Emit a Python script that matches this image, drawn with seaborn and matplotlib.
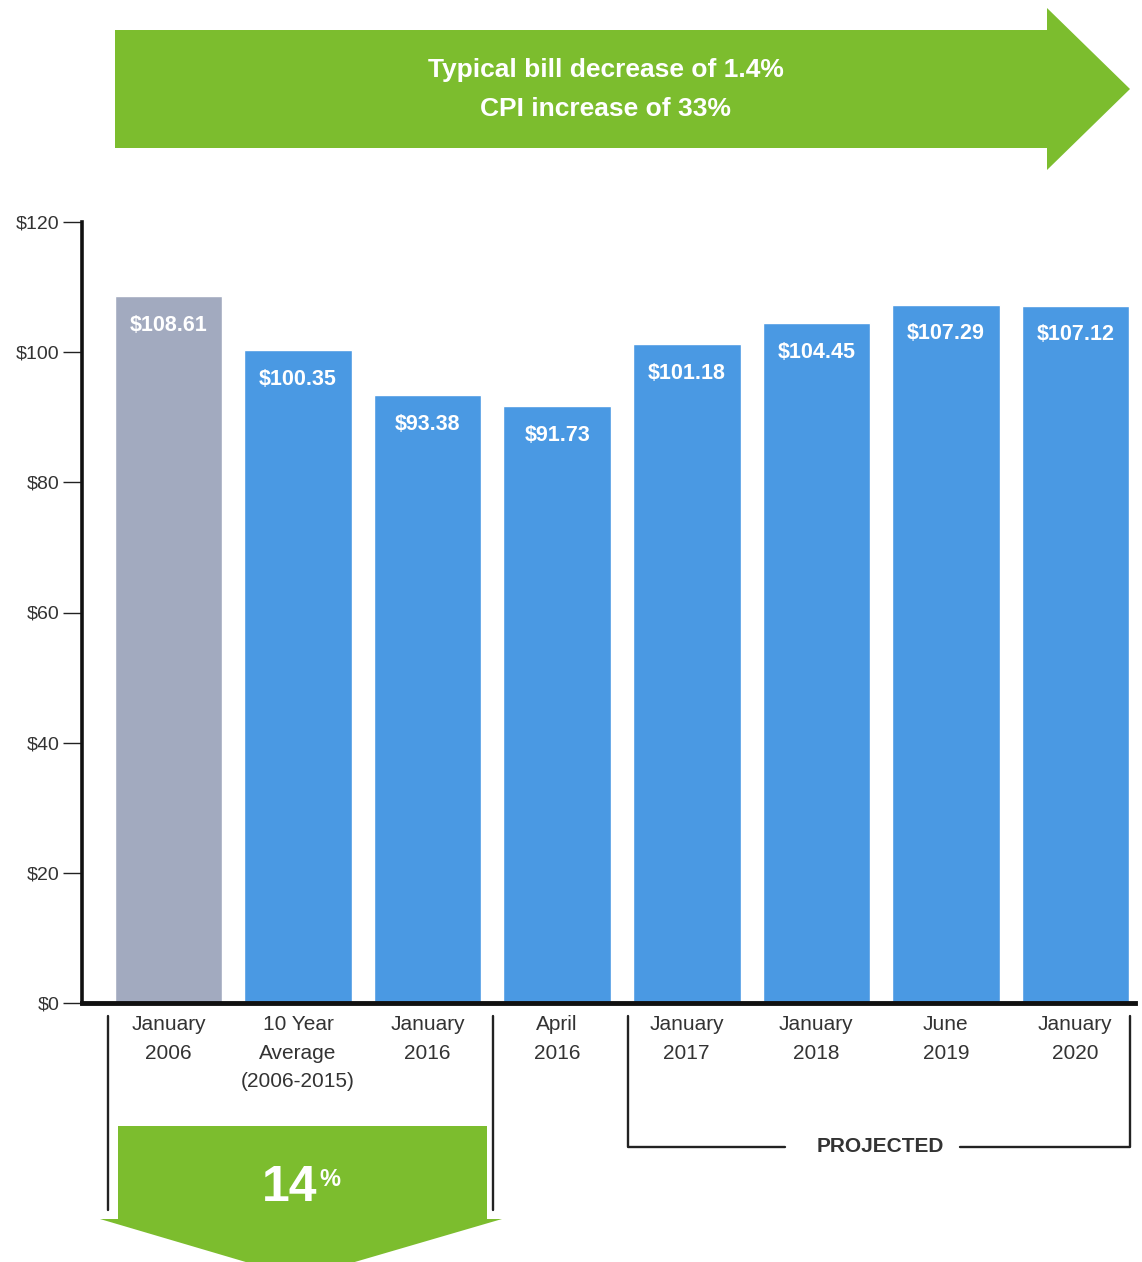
import matplotlib
matplotlib.use("Agg")
import matplotlib.pyplot as plt
from matplotlib.patches import Polygon
from matplotlib.lines import Line2D
import seaborn as sns
import pandas as pd

# Typical monthly bill by period
periods = ["January\n2006", "10 Year\nAverage\n(2006-2015)", "January\n2016", "April\n2016",
           "January\n2017", "January\n2018", "June\n2019", "January\n2020"]
bills = [108.61, 100.35, 93.38, 91.73, 101.18, 104.45, 107.29, 107.12]
groups = ["base", "current", "current", "current", "current", "current", "current", "current"]
value_labels = ["$108.61", "$100.35", "$93.38", "$91.73", "$101.18", "$104.45", "$107.29", "$107.12"]
y_ticks = [0, 20, 40, 60, 80, 100, 120]
y_tick_labels = ["$0", "$20", "$40", "$60", "$80", "$100", "$120"]

BLUE = "#4a99e3"
GRAY = "#a2aabf"
GREEN = "#7cbd2e"
TEXT = "#333333"

sns.set_theme(style="white")
plt.rcParams["font.family"] = ["Liberation Sans Narrow", "Liberation Sans", "DejaVu Sans"]

W, H = 1142, 1262
fig = plt.figure(figsize=(W / 100, H / 100), dpi=100)


def fx(px):
    return px / W


def fy(py):
    return 1 - py / H


ax = fig.add_axes([fx(82), fy(1003), fx(1135) - fx(82), fy(222) - fy(1003)])

df = pd.DataFrame({"period": periods, "bill": bills, "group": groups})
sns.barplot(data=df, x="period", y="bill", hue="group",
            palette={"base": GRAY, "current": BLUE}, dodge=False,
            width=0.83, legend=False, ax=ax, saturation=1)

ax.set_xlim(-0.668, 7.46)
ax.set_ylim(0, 120)
ax.set_xlabel("")
ax.set_ylabel("")

for i, (v, lab) in enumerate(zip(bills, value_labels)):
    ax.annotate(lab, xy=(i, v), xytext=(0, -21), textcoords="offset points",
                ha="center", va="center", color="white", fontsize=15.5,
                fontweight="bold")

ax.set_yticks(y_ticks)
ax.set_yticklabels(y_tick_labels, fontsize=14, color=TEXT)
ax.tick_params(axis="y", length=14, width=1, color="#222222", pad=2, left=True)
ax.set_xticks(range(len(periods)))
ax.set_xticklabels(periods, fontsize=15, color=TEXT, linespacing=1.62)
ax.tick_params(axis="x", length=0, pad=9)

for s in ["top", "right"]:
    ax.spines[s].set_visible(False)
ax.spines["left"].set_linewidth(2.6)
ax.spines["left"].set_color("#111111")
ax.spines["bottom"].set_linewidth(3.5)
ax.spines["bottom"].set_color("#111111")

# Top arrow
top_arrow = [(115, 30), (1047, 30), (1047, 8), (1130, 89), (1047, 170), (1047, 148), (115, 148)]
fig.patches.append(Polygon([(fx(x), fy(y)) for x, y in top_arrow], closed=True,
                           transform=fig.transFigure, facecolor=GREEN, edgecolor="none"))
fig.text(fx(606), fy(70), "Typical bill decrease of 1.4%", ha="center", va="center",
         color="white", fontsize=19, fontweight="bold")
fig.text(fx(606), fy(109), "CPI increase of 33%", ha="center", va="center",
         color="white", fontsize=19, fontweight="bold")

line_kw = dict(transform=fig.transFigure, color="#222222", lw=1.7)

# Bracket around the first three periods
for x in (108, 493):
    fig.add_artist(Line2D([fx(x), fx(x)], [fy(1016), fy(1210)], **line_kw))

# Bottom arrow
bot_arrow = [(118, 1126), (487, 1126), (487, 1219), (502, 1219), (300, 1278),
             (100, 1219), (118, 1219)]
fig.patches.append(Polygon([(fx(x), fy(y)) for x, y in bot_arrow], closed=True,
                           transform=fig.transFigure, facecolor=GREEN, edgecolor="none"))
fig.text(fx(317), fy(1188), "14", ha="right", va="center", color="white",
         fontsize=36, fontweight="bold")
fig.text(fx(319), fy(1168), "%", ha="left", va="top", color="white",
         fontsize=17, fontweight="bold")

# Projected bracket
fig.add_artist(Line2D([fx(628), fx(628), fx(785)], [fy(1016), fy(1147), fy(1147)], **line_kw))
fig.add_artist(Line2D([fx(960), fx(1130), fx(1130)], [fy(1147), fy(1147), fy(1016)], **line_kw))
fig.text(fx(880), fy(1147), "PROJECTED", ha="center", va="center", color=TEXT,
         fontsize=15, fontweight="bold", family=["Liberation Sans", "DejaVu Sans"])

fig.savefig("out.png", dpi=100)
